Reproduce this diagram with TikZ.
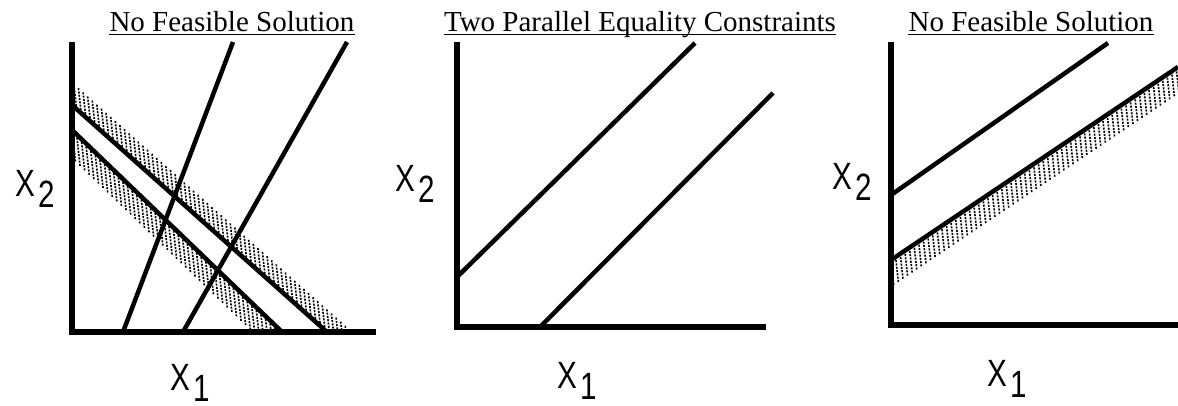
\documentclass[tikz,border=0pt]{standalone}
\usepackage{fontspec}
\setmainfont{Liberation Serif}
\newfontfamily\labfont[FakeStretch=0.78]{Liberation Sans}
\newcommand{\hatchband}[5]{%
  \pgfmathsetmacro{\hbslope}{(#4-#2)/(#3-#1)}%
  \pgfmathtruncatemacro{\hbn}{(#3-#1)/4.6}%
  \foreach \hbi in {0,...,\hbn}{%
    \pgfmathsetmacro{\hbx}{#1+4.6*\hbi}%
    \pgfmathsetmacro{\hby}{#2+\hbslope*4.6*\hbi}%
    \draw[hatch] (\hbx,\hby) -- ++({0.11*#5},{#5});
  }}
\newcommand{\xlab}[4]{%
  \node[lab] (#1) at (#2,#3) {X};
  \node[lab] (#1s) at ([xshift=3pt,yshift=-11pt]#1.base east) {#4};}
\begin{document}
\begin{tikzpicture}[x=1pt,y=-1pt,
  axis/.style={line width=5.5pt, line join=miter},
  cline/.style={line width=4.5pt},
  hatch/.style={line width=1.6pt, dash pattern=on 2pt off 1.3pt},
  ttl/.style={font=\fontsize{29}{29}\selectfont, inner sep=0pt, anchor=base},
  uline/.style={line width=1.4pt},
  lab/.style={font=\labfont\fontsize{38}{38}\selectfont, inner sep=0pt, anchor=base west}]
\useasboundingbox (0,0) rectangle (1178,406);

% titles
\node[ttl] (t1) at (232,32) {No Feasible Solution};
\node[ttl] (t2) at (640,32) {Two Parallel Equality Constraints};
\node[ttl] (t3) at (1031,32) {No Feasible Solution};
\foreach \t in {t1,t2,t3}
  \draw[uline] ([yshift=-2.5pt]\t.base west) -- ([yshift=-2.5pt]\t.base east);

% ---------- panel 1 ----------
\begin{scope}
  \clip (72,0) rectangle (400,332);
  \hatchband{72}{105}{360}{361.4}{-25}
  \hatchband{72}{130}{282}{332}{32}
\end{scope}
\coordinate (p1top) at (72,42);
\coordinate (p1o) at (72,332);
\coordinate (p1r) at (376,332);
\coordinate (a1s) at (72,105);  \coordinate (a1e) at (327,332);
\coordinate (b1s) at (72,130);  \coordinate (b1e) at (282,332);
\coordinate (c1s) at (123,332); \coordinate (c1e) at (233,42);
\coordinate (d1s) at (183,332); \coordinate (d1e) at (347,42);
\draw[cline] (a1s) -- (a1e);
\draw[cline] (b1s) -- (b1e);
\draw[cline] (c1s) -- (c1e);
\draw[cline] (d1s) -- (d1e);
\draw[axis] (p1top) -- (p1o) -- (p1r);
\xlab{x2a}{15}{197}{2}
\xlab{x1a}{170}{390}{1}

% ---------- panel 2 ----------
\coordinate (p2top) at (457,42);
\coordinate (p2o) at (457,327);
\coordinate (p2r) at (766,327);
\coordinate (a2s) at (457,277); \coordinate (a2e) at (695,43);
\coordinate (b2s) at (540,327); \coordinate (b2e) at (773,93);
\draw[cline] (a2s) -- (a2e);
\draw[cline] (b2s) -- (b2e);
\draw[axis] (p2top) -- (p2o) -- (p2r);
\xlab{x2b}{395}{192}{2}
\xlab{x1b}{557}{388}{1}

% ---------- panel 3 ----------
\begin{scope}
  \clip (891,0) rectangle (1178,325);
  \hatchband{891}{260}{1178}{67}{26}
\end{scope}
\coordinate (p3top) at (891,42);
\coordinate (p3o) at (891,325);
\coordinate (p3r) at (1178,325);
\coordinate (a3s) at (891,195); \coordinate (a3e) at (1108,43);
\coordinate (b3s) at (891,260); \coordinate (b3e) at (1178,67);
\draw[cline] (a3s) -- (a3e);
\draw[cline] (b3s) -- (b3e);
\draw[axis] (p3top) -- (p3o) -- (p3r);
\xlab{x2c}{832}{190}{2}
\xlab{x1c}{987}{386}{1}
\end{tikzpicture}
\end{document}
